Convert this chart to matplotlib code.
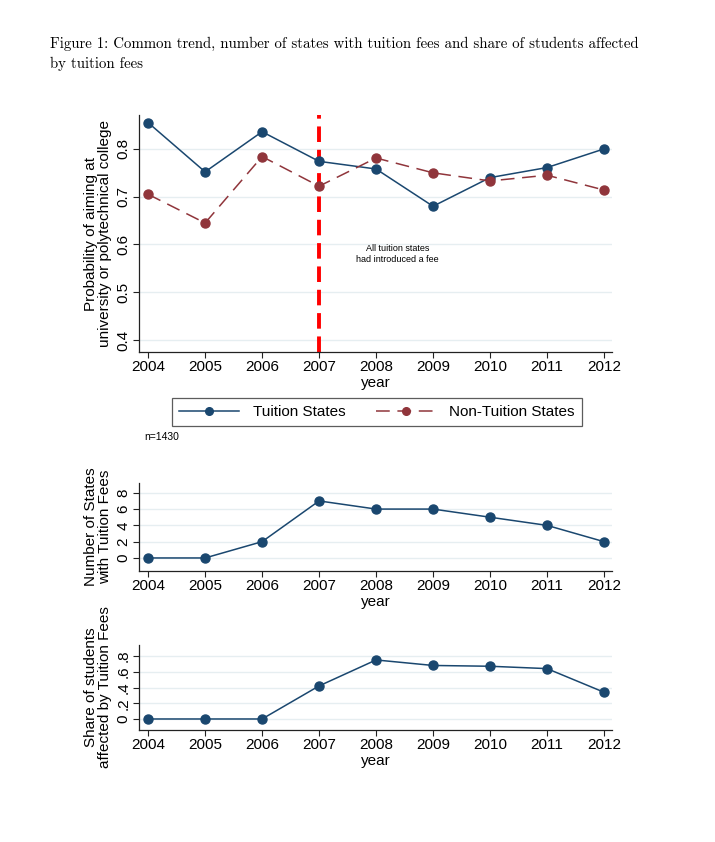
import matplotlib
matplotlib.use("Agg")
import matplotlib.pyplot as plt
from matplotlib.lines import Line2D

years = [2004, 2005, 2006, 2007, 2008, 2009, 2010, 2011, 2012]
tuition_prob = [0.855, 0.752, 0.836, 0.774, 0.758, 0.680, 0.740, 0.761, 0.800]
non_tuition_prob = [0.705, 0.645, 0.784, 0.722, 0.781, 0.750, 0.733, 0.745, 0.714]
n_states_fees = [0, 0, 2, 7, 6, 6, 5, 4, 2]
share_affected = [0, 0, 0, 0.42, 0.75, 0.68, 0.67, 0.64, 0.34]

navy = "#1a476f"
maroon = "#90353b"
grid_col = "#e6eef1"
dash_nt = (0, (9, 5))

plt.rcParams["font.family"] = ["Liberation Sans", "DejaVu Sans"]

fig = plt.figure(figsize=(7.15, 8.42), dpi=100)
fig.patch.set_facecolor("white")

fig.text(50 / 715, 1 - 37 / 842,
         "Figure 1: Common trend, number of states with tuition fees and share of students affected\nby tuition fees",
         family=["cmr10", "DejaVu Serif"], fontsize=10.7, va="top", ha="left", linespacing=1.45)


def style_axes(ax, yticks, yticklabels, ylabel):
    for s in ["top", "right"]:
        ax.spines[s].set_visible(False)
    for s in ["left", "bottom"]:
        ax.spines[s].set_color("#222222")
        ax.spines[s].set_linewidth(0.9)
    ax.set_xlim(2003.84, 2012.14)
    ax.set_xticks(years)
    ax.set_xticklabels([str(y) for y in years], fontsize=11)
    ax.set_yticks(yticks)
    ax.set_yticklabels(yticklabels, fontsize=11, rotation=90, va="center")
    ax.tick_params(direction="out", length=4, width=0.8, color="#222222", pad=2)
    ax.yaxis.grid(True, color=grid_col, linewidth=1)
    ax.set_axisbelow(True)
    ax.set_xlabel("year", fontsize=11, labelpad=1)
    ax.set_ylabel(ylabel, fontsize=11, labelpad=3, linespacing=1.0)


# top panel
ax1 = fig.add_axes([0.1944, 1 - 352 / 842, 0.6615, (352 - 115) / 842])
ax1.set_ylim(0.375, 0.871)
ax1.plot(years, tuition_prob, color=navy, lw=1.1, marker="o", ms=6.5, label="Tuition States")
ax1.plot(years, non_tuition_prob, color=maroon, lw=1.1, ls=dash_nt, marker="o", ms=6.5,
         label="Non-Tuition States")
ax1.axvline(2007, color="red", lw=2.8, ls=(0, (4, 2)), zorder=1)
ax1.text(2008.38, 0.580, "All tuition states\nhad introduced a fee", fontsize=6.5,
         ha="center", va="center", linespacing=1.2)
style_axes(ax1, [0.4, 0.5, 0.6, 0.7, 0.8], ["0.4", "0.5", "0.6", "0.7", "0.8"],
           "Probability of aiming at\nuniversity or polytechnical college")

handles = [
    Line2D([], [], color=navy, lw=1.1, marker="o", ms=5.5),
    Line2D([], [], color=maroon, lw=1.1, ls=dash_nt, marker="o", ms=5.5),
]
leg = fig.legend(handles, ["Tuition States", "Non-Tuition States"], ncol=2,
                 loc="center", bbox_to_anchor=(377 / 715, 1 - 412 / 842),
                 fontsize=11, handlelength=3.9, handletextpad=0.9, columnspacing=2.0,
                 frameon=True, fancybox=False, edgecolor="#333333", borderpad=0.45)
leg.get_frame().set_linewidth(0.9)

fig.text(144 / 715, 1 - 437 / 842, "n=1430", fontsize=7.5, ha="left", va="center")

# middle panel
ax2 = fig.add_axes([0.1944, 1 - 571 / 842, 0.6615, (571 - 483) / 842])
ax2.set_ylim(-1.6, 9.2)
ax2.plot(years, n_states_fees, color=navy, lw=1.1, marker="o", ms=6.5)
style_axes(ax2, [0, 2, 4, 6, 8], ["0", "2", "4", "6", "8"],
           "Number of States\nwith Tuition Fees")

# bottom panel
ax3 = fig.add_axes([0.1944, 1 - 730 / 842, 0.6615, (730 - 645) / 842])
ax3.set_ylim(-0.14, 0.94)
ax3.plot(years, share_affected, color=navy, lw=1.1, marker="o", ms=6.5)
style_axes(ax3, [0, 0.2, 0.4, 0.6, 0.8], ["0", ".2", ".4", ".6", ".8"],
           "Share of students\naffected by Tuition Fees")

fig.savefig("out.png", dpi=100, facecolor="white")
